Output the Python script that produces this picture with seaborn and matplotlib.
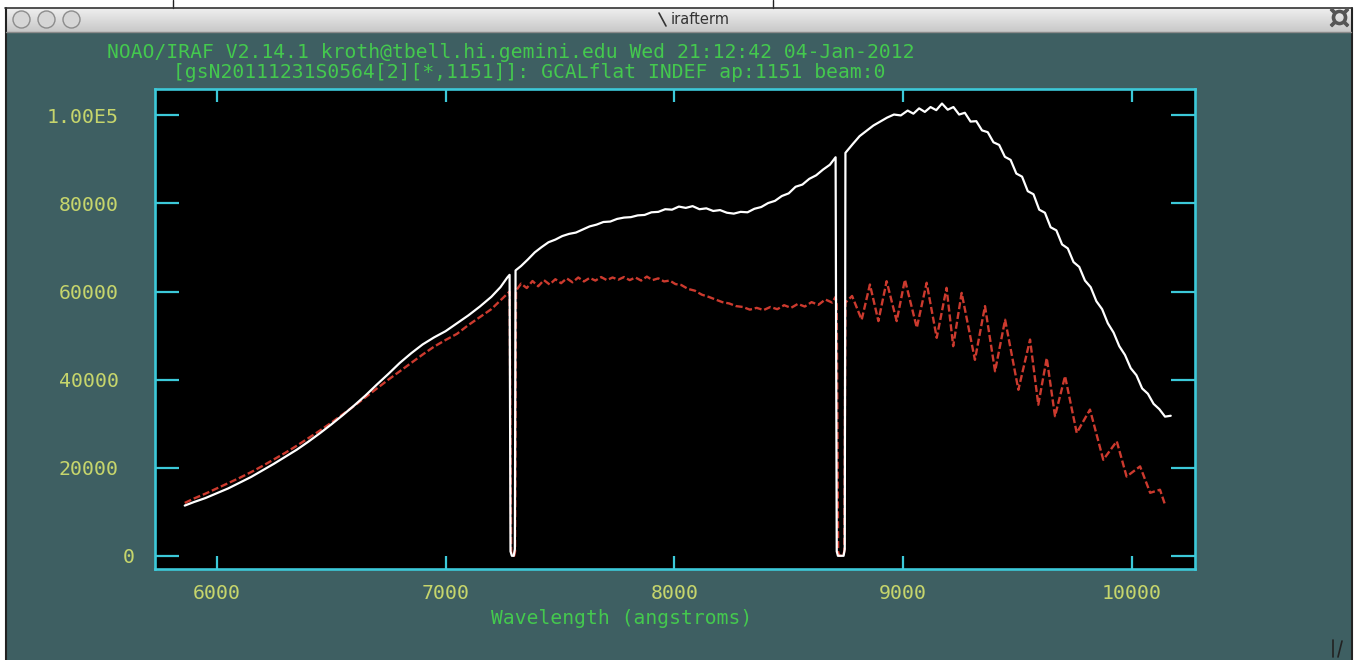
import numpy as np
import pandas as pd
import matplotlib
matplotlib.use("Agg")
import matplotlib.pyplot as plt
import seaborn as sns
from matplotlib.colors import LinearSegmentedColormap
from matplotlib.transforms import ScaledTranslation

# Flat spectrum at ap:1151
# white: normalised GCAL flat, red: raw flat with fringing
white_wl = [5860, 5900, 5950, 6000, 6050, 6100, 6150, 6200, 6250, 6300, 6350, 6400,
            6450, 6500, 6550, 6600, 6650, 6700, 6750, 6800, 6850, 6900, 6950, 7000,
            7050, 7100, 7150, 7200, 7240, 7270, 7280, 7284, 7290, 7298, 7303, 7306,
            7330, 7360, 7390, 7420, 7450, 7480, 7510, 7540, 7570, 7600, 7630, 7660,
            7690, 7720, 7750, 7780, 7810, 7840, 7870, 7900, 7930, 7960, 7990, 8020,
            8050, 8080, 8110, 8140, 8170, 8200, 8230, 8260, 8290, 8320, 8350, 8380,
            8410, 8440, 8470, 8500, 8530, 8560, 8590, 8620, 8650, 8680, 8705, 8710,
            8715, 8740, 8745, 8748, 8780, 8810, 8840, 8870, 8900, 8930, 8960, 8990,
            9020, 9045, 9070, 9095, 9120, 9145, 9170, 9195, 9220, 9245, 9270, 9295,
            9320, 9345, 9370, 9395, 9420, 9445, 9470, 9495, 9520, 9545, 9570, 9595,
            9620, 9645, 9670, 9695, 9720, 9745, 9770, 9795, 9820, 9845, 9870, 9895,
            9920, 9945, 9970, 9995, 10020, 10045, 10070, 10095, 10120, 10145, 10170]
white_flux = [11400, 12200, 13100, 14200, 15300, 16600, 17900, 19400, 20900, 22500, 24100, 25900,
              27800, 29800, 31900, 34100, 36400, 38900, 41300, 43800, 46000, 48000, 49600, 51000,
              52800, 54600, 56600, 58800, 61000, 63200, 63800, 1000, 0, 0, 1500, 64800,
              65800, 67300, 68900, 70100, 71200, 71800, 72600, 73100, 73400, 74100, 74800, 75200,
              75800, 75900, 76500, 76800, 76900, 77300, 77400, 78000, 78100, 78700, 78600, 79300,
              79000, 79400, 78700, 78900, 78300, 78500, 77900, 77700, 78100, 78000, 78800, 79200,
              80100, 80600, 81700, 82300, 83800, 84300, 85600, 86400, 87700, 88800, 90500, 1000,
              0, 0, 1500, 91500, 93500, 95300, 96500, 97700, 98600, 99500, 100200, 100000,
              101100, 100400, 101600, 100800, 101900, 101200, 102700, 101300, 101900, 100200, 100600, 98600,
              98700, 96600, 96200, 93900, 93300, 90600, 89900, 86800, 86100, 82800, 82100, 78600,
              77900, 74600, 73900, 70700, 69800, 66700, 65600, 62500, 61000, 57800, 56000, 52800,
              50700, 47600, 45600, 42600, 41000, 38000, 36800, 34500, 33300, 31600, 31800]

red_wl = [5860, 5900, 5950, 6000, 6050, 6100, 6150, 6200, 6250, 6300, 6350, 6400,
          6450, 6500, 6550, 6600, 6650, 6700, 6750, 6800, 6850, 6900, 6950, 7000,
          7050, 7100, 7150, 7200, 7250, 7280, 7287, 7292, 7300, 7304, 7308, 7330,
          7355, 7380, 7405, 7430, 7455, 7480, 7505, 7530, 7555, 7580, 7605, 7630,
          7655, 7680, 7705, 7730, 7755, 7780, 7805, 7830, 7855, 7880, 7905, 7930,
          7955, 7980, 8005, 8030, 8060, 8090, 8120, 8150, 8180, 8210, 8240, 8270,
          8300, 8330, 8360, 8390, 8420, 8450, 8480, 8510, 8540, 8570, 8600, 8630,
          8660, 8690, 8705, 8710, 8716, 8722, 8738, 8743, 8748, 8777, 8819, 8855,
          8892, 8928, 8972, 9008, 9060, 9103, 9147, 9190, 9219, 9256, 9314, 9358,
          9402, 9446, 9504, 9555, 9591, 9628, 9664, 9708, 9759, 9817, 9875, 9934,
          9977, 10036, 10080, 10123, 10145]
red_flux = [12000, 13000, 14100, 15300, 16500, 17700, 19000, 20400, 21900, 23400, 25000, 26700,
            28400, 30200, 32100, 34000, 36000, 38000, 40000, 41900, 43800, 45700, 47500, 49000,
            50400, 52400, 54200, 56000, 58500, 60000, 800, 0, 0, 1000, 60200, 61800,
            60800, 62400, 61200, 62600, 61600, 62800, 61900, 63000, 62100, 63200, 62300, 63100,
            62500, 63300, 62600, 63200, 62700, 63300, 62600, 63200, 62500, 63400, 62600, 63000,
            62300, 62500, 61700, 61500, 60600, 60200, 59300, 58800, 58200, 57600, 57300, 56700,
            56500, 55900, 56300, 55800, 56500, 56000, 56900, 56300, 57200, 56600, 57600, 57000,
            58200, 57500, 58800, 57000, 800, 0, 0, 1000, 57500, 59000, 53600, 61600,
            53300, 62350, 53300, 62700, 51800, 62000, 49500, 60850, 47600, 59700, 44500, 56700,
            41900, 53600, 37700, 49100, 34300, 44900, 31700, 40800, 27900, 33200, 21800, 26000,
            18000, 20300, 14300, 15000, 11600]

x_ticks = [6000, 7000, 8000, 9000, 10000]
y_ticks = [0, 20000, 40000, 60000, 80000, 100000]
y_tick_labels = ["0", "20000", "40000", "60000", "80000", "1.00E5"]

header1 = "NOAO/IRAF V2.14.1 kroth@tbell.hi.gemini.edu Wed 21:12:42 04-Jan-2012"
header2 = "[gsN20111231S0564[2][*,1151]]: GCALflat INDEF ap:1151 beam:0"
x_label = "Wavelength (angstroms)"

white_df = pd.DataFrame({"wl": white_wl, "flux": white_flux})
red_df = pd.DataFrame({"wl": red_wl, "flux": red_flux})

teal = "#3e5f62"
cyan = "#3cc9d9"
green = "#44c94e"
yellow = "#c6d56c"

sns.set_theme(style="dark")
plt.rcParams['font.family'] = ['DejaVu Sans Mono', 'DejaVu Sans']

W, H = 1357, 660
fig = plt.figure(figsize=(W / 100, H / 100), dpi=100)
fig.patch.set_facecolor(teal)

# window chrome drawn in pixel coordinates
chrome = fig.add_axes([0, 0, 1, 1], zorder=0)
chrome.set_xlim(0, W)
chrome.set_ylim(H, 0)
chrome.axis("off")
chrome.fill_between([0, W], 0, 8, color="white", lw=0)
chrome.fill_between([0, 5], 0, H, color="white", lw=0)
chrome.fill_between([1352, W], 0, H, color="white", lw=0)
bar_cmap = LinearSegmentedColormap.from_list("bar", ["#efefef", "#c8c8c8"])
chrome.imshow(np.linspace(0, 1, 32).reshape(-1, 1), cmap=bar_cmap, aspect="auto",
              extent=(6, 1351, 32, 8), zorder=1)
chrome.plot([5.5, 5.5], [8, H], color="#222222", lw=1.5, zorder=3)
chrome.plot([1351.5, 1351.5], [8, H], color="#222222", lw=1.5, zorder=3)
chrome.plot([5, 1352], [8, 8], color="#333333", lw=1.2, zorder=3)
chrome.plot([6, 1351], [32, 32], color="#8a8a8a", lw=1, zorder=3)
chrome.plot([173, 173], [0, 8], color="#222222", lw=1)
chrome.plot([773, 773], [0, 8], color="#222222", lw=1)
chrome.scatter([21, 46, 71], [19, 19, 19], s=150, facecolor="#d6d6d6",
               edgecolor="#8c8c8c", lw=1, zorder=4)
# little X11 logo and the hand cursor
chrome.plot([659, 666], [13, 26], color="#333333", lw=1.2, zorder=4)
chrome.text(700, 20, "irafterm", ha="center", va="center", fontsize=10.5,
            family=["DejaVu Sans"], color="#333333", zorder=4)
chrome.scatter([1339], [17], s=170, marker="$\u270b$", color="#555555", zorder=4)
chrome.plot([1333, 1333], [640, 657], color="#222222", lw=1.2)
chrome.plot([1338, 1342], [657, 641], color="#222222", lw=1.2)

chrome.text(107, 53, header1, ha="left", va="center", fontsize=14.1, color=green)
chrome.text(173, 73, header2, ha="left", va="center", fontsize=14.1, color=green)
chrome.text(622, 618, x_label, ha="center", va="center", fontsize=14.1, color=green)

# plot area
ax = fig.add_axes([155 / W, 1 - 569 / H, (1195 - 155) / W, (569 - 89) / H], zorder=2)
ax.set_facecolor("black")
sns.lineplot(data=red_df, x="wl", y="flux", ax=ax, sort=False, estimator=None,
             color="#cc3a2e", lw=1.7, linestyle=(0, (3, 1.2)), legend=False)
sns.lineplot(data=white_df, x="wl", y="flux", ax=ax, sort=False, estimator=None,
             color="white", lw=1.6, legend=False)

ax.set_xlim(5730, 10276)
ax.set_ylim(-3000, 106000)
ax.set_xticks(x_ticks)
ax.set_xticklabels([str(t) for t in x_ticks])
ax.set_yticks(y_ticks)
ax.set_yticklabels(y_tick_labels)
ax.set_xlabel("")
ax.set_ylabel("")
ax.grid(False)
for spine in ax.spines.values():
    spine.set_visible(True)
    spine.set_color(cyan)
    spine.set_linewidth(1.9)
ax.tick_params(axis="x", direction="in", length=9.5, width=1.6, color=cyan,
               top=True, bottom=True, pad=11, labelsize=14.3, labelcolor=yellow)
ax.tick_params(axis="y", direction="in", length=17, width=1.6, color=cyan,
               left=True, right=True, pad=26, labelsize=14.3, labelcolor=yellow)

# IRAF puts the lone "0" a little closer to the axis
zero_lbl = ax.get_yticklabels()[0]
zero_lbl.set_transform(zero_lbl.get_transform() + ScaledTranslation(0.16, 0, fig.dpi_scale_trans))

fig.savefig("out.png", dpi=100, facecolor=fig.get_facecolor())
